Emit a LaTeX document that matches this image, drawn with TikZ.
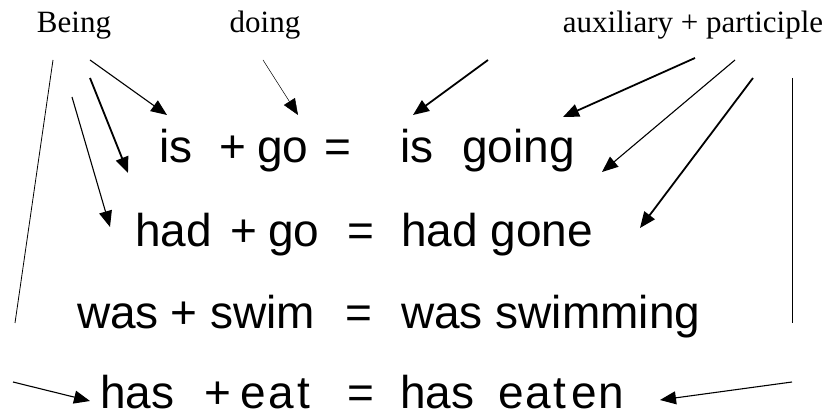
\documentclass[tikz,border=0pt]{standalone}
\usepackage{fontspec}
\newfontfamily\rowfont{Liberation Sans}
\newfontfamily\lblfont{Liberation Serif}
\usetikzlibrary{arrows.meta}
\tikzset{
  word/.style={font=\rowfont\fontsize{46}{50}\selectfont, inner sep=0pt, anchor=base west},
  lbl/.style={font=\lblfont\fontsize{31}{34}\selectfont, inner sep=0pt, anchor=base},
  edge/.style={-{Triangle[length=16pt, width=13pt]}, line width=1.1pt},
  thinedge/.style={-{Triangle[length=16pt, width=13pt]}, line width=0.5pt},
  boldedge/.style={-{Triangle[length=16pt, width=13pt]}, line width=1.8pt},
  rule/.style={line width=0.8pt}
}
\begin{document}
\begin{tikzpicture}[x=1pt, y=-1pt]
\useasboundingbox (0,0) rectangle (830,419);

\node[lbl] (being) at (74,33) {Being};
\node[lbl] (doing) at (265,33) {doing};
\node[lbl] (auxpart) at (693,33) {auxiliary + participle};

\node[word] (r1a) at (159,163) {is};
\node[word] (r1b) at (219,163) {+};
\node[word] (r1c) at (257,163) {go};
\node[word] (r1d) at (324,163) {=};
\node[word] (r1e) at (400,163) {is};
\node[word] (r1f) at (462,163) {going};

\node[word] (r2a) at (135,247) {had};
\node[word] (r2b) at (230,247) {+};
\node[word] (r2c) at (268,247) {go};
\node[word] (r2d) at (347,247) {=};
\node[word] (r2e) at (401,247) {had gone};

\node[word] (r3a) at (77,329) {was};
\node[word] (r3b) at (170,329) {+};
\node[word] (r3c) at (210,329) {swim};
\node[word] (r3d) at (345,329) {=};
\node[word] (r3e) at (401,329) {was swimming};

\node[word] (r4a) at (100,409) {has};
\node[word] (r4b) at (204,409) {+};
\node[word] (r4c) at (240,409) {e\kern3pt a\kern3pt t};
\node[word] (r4d) at (347,409) {=};
\node[word] (r4e) at (400,409) {has};
\node[word] (r4f) at (498,409) {e\kern2pt a\kern2pt t\kern5pt e\kern2pt n};

\coordinate (b0s) at (53,60);   \coordinate (b0e) at (15,323);
\coordinate (b1s) at (90,60);   \coordinate (b1e) at (167,115);
\coordinate (b2s) at (90,78);   \coordinate (b2e) at (128,173);
\coordinate (b3s) at (72,97);   \coordinate (b3e) at (110,227);
\coordinate (b4s) at (13,382);  \coordinate (b4e) at (90,401);
\coordinate (d1s) at (263,60);  \coordinate (d1e) at (298,115);
\coordinate (a1s) at (488,60);  \coordinate (a1e) at (413,115);
\coordinate (a2s) at (695,58);  \coordinate (a2e) at (563,117);
\coordinate (a3s) at (735,60);  \coordinate (a3e) at (602,172);
\coordinate (a4s) at (753,78);  \coordinate (a4e) at (640,228);
\coordinate (a5s) at (792,78);  \coordinate (a5e) at (792,323);
\coordinate (a6s) at (792,382); \coordinate (a6e) at (660,400);

\draw[rule] (b0s) -- (b0e);
\draw[edge] (b1s) -- (b1e);
\draw[boldedge] (b2s) -- (b2e);
\draw[edge] (b3s) -- (b3e);
\draw[edge] (b4s) -- (b4e);
\draw[thinedge] (d1s) -- (d1e);
\draw[boldedge] (a1s) -- (a1e);
\draw[boldedge] (a2s) -- (a2e);
\draw[edge] (a3s) -- (a3e);
\draw[boldedge] (a4s) -- (a4e);
\draw[rule] (a5s) -- (a5e);
\draw[edge] (a6s) -- (a6e);
\end{tikzpicture}
\end{document}
